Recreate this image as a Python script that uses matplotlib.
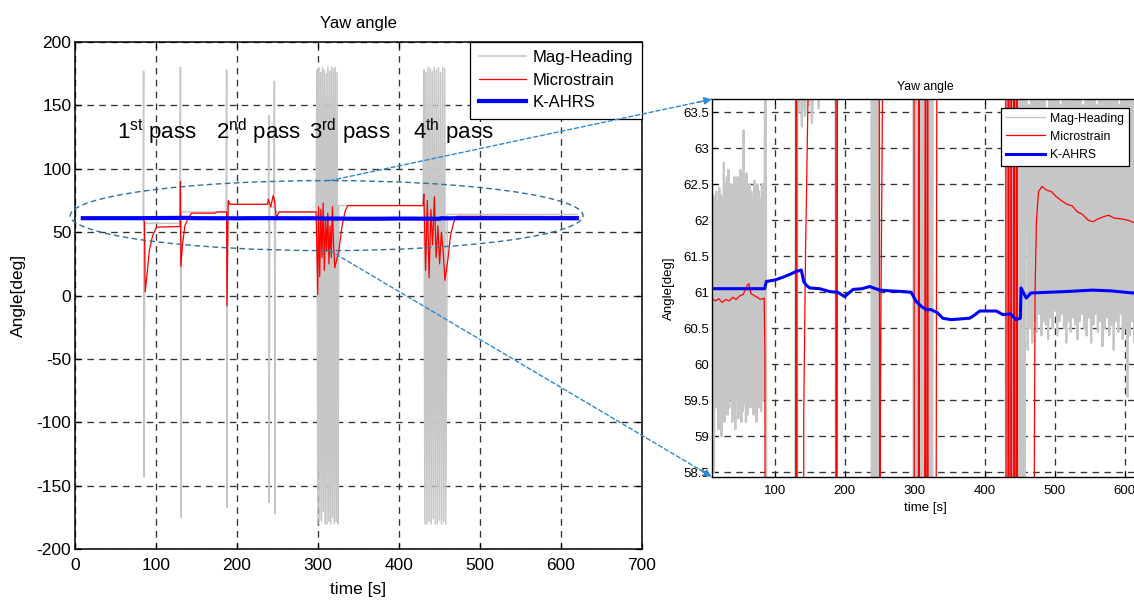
import numpy as np
import matplotlib
matplotlib.use('Agg')
import matplotlib.pyplot as plt
from matplotlib.patches import Ellipse, ConnectionPatch
from matplotlib.ticker import FuncFormatter

# ---------------- overview panel (left) ----------------
# Mag-Heading
mag_t = [10, 84.5, 85, 85.6, 86.5, 130, 130.5, 131, 131.6, 187, 187.5, 188, 188.6,
         239, 239.5, 240.1, 240.7, 246, 246.5, 247.1, 247.7, 298]
mag_v = [61.5, 61.5, 177, -143, 57, 57, 180, -175, 66, 66, 178, -167, 72,
         72, 142, -163, 70, 70, 169, -172, 66, 66]
mag_burst3 = [178, -180, 180, -176, 176, -178, 180, -170, 178, -180, 175, -180,
              180, -178, 177, -180, 180, -175, 179, -180, 180, -178, 176, -180]
mag_mid_t = [326, 430]
mag_mid_v = [71, 71]
mag_burst4 = [178, -180, 176, -180, 180, -178, 179, -180, 177, -176, 180,
              -180, 178, -180, 180, -177, 176, -180, 180, -178, 179, -180]
mag_end_t = [460, 620]
mag_end_v = [64, 64]

# Microstrain
red_t = [10, 85, 86, 87, 89, 92, 96, 101, 130, 130.5, 131, 133, 136, 140, 144, 173,
         176, 187.5, 188, 189.5, 192, 238, 239, 242, 245, 247, 249, 250.5, 253, 298, 300]
red_v = [61, 61, 58, 3, 15, 35, 47, 54, 54.5, 90, 23, 40, 55, 61, 65, 65,
         66, 66, -8, 75, 72, 72, 76, 70, 79, 74, 59.7, 64, 66, 66, 1]
red_burst3 = [70, 15, 68, 30, 73, 20, 60, 35, 65, 25, 55, 30, 70, 40, 22]
red_mid_t = [326, 330, 334, 337, 430]
red_mid_v = [35, 55, 67, 71, 71]
red_burst4 = [80, 20, 75, 14, 68, 40, 78, 30, 55, 25, 50, 35, 12]
red_end_t = [461, 464, 468, 472, 620]
red_end_v = [30, 48, 58, 62.5, 62.3]

# K-AHRS (used in both panels)
ahrs_t = [10, 85.7, 88, 100, 112, 122, 131, 135, 138, 141.4, 145, 150, 164, 178.6, 190,
          200, 212, 225, 235.7, 250, 265, 283, 295, 302, 310, 316.7, 323, 332, 340, 352,
          365, 378.6, 385, 392.9, 405, 416.7, 426, 437, 445, 451, 452, 455, 459.5, 466,
          490, 516, 535, 554, 580, 612, 620]
ahrs_v = [61.05, 61.05, 61.15, 61.17, 61.21, 61.25, 61.29, 61.3, 61.31, 61.15, 61.1, 61.06,
          61.05, 61.01, 61.0, 60.94, 61.04, 61.05, 61.08, 61.03, 61.02, 61.01, 61.0, 60.875,
          60.8, 60.76, 60.76, 60.72, 60.64, 60.62, 60.63, 60.64, 60.68, 60.74, 60.74, 60.74,
          60.69, 60.7, 60.62, 60.64, 61.06, 61.0, 60.92, 60.99, 61.0, 61.01, 61.02, 61.03,
          61.02, 60.99, 61.0]

pass_labels = [r'1$^{\mathrm{st}}$ pass', r'2$^{\mathrm{nd}}$ pass',
               r'3$^{\mathrm{rd}}$ pass', r'4$^{\mathrm{th}}$ pass']
pass_x = [52, 175, 289, 417]
pass_y = [123.6, 123.6, 123.6, 123.6]

# ---------------- zoomed panel (right) ----------------
zmag_a_hi = [61.9, 62.35, 62.3, 62.4, 62.2, 62.45, 62.35, 62.3, 62.8, 62.5,
             62.6, 62.7, 62.4, 62.5, 62.3, 62.6, 62.5, 62.6, 62.55, 62.7,
             62.5, 63.25, 62.6, 62.65, 62.45, 62.5, 62.4, 62.3, 62.55, 62.45,
             62.5, 62.4, 62.3, 62.5, 62.5]
zmag_a_lo = [59.8, 58.5, 59.4, 59.6, 59.1, 59.3, 59.0, 59.5, 59.2, 59.6,
             59.3, 59.4, 59.55, 59.2, 59.3, 59.1, 59.5, 59.25, 59.4, 59.2,
             59.35, 59.45, 59.2, 59.3, 59.6, 59.4, 59.7, 59.3, 59.5, 59.2,
             59.6, 59.4, 59.35, 59.5, 59.6]
zmag_b_t = [85.5, 87, 88.5, 89.5, 129.5, 130.5, 131.5, 132.5, 133.5]
zmag_b_v = [62.0, 66, 55, 57, 57, 70, 45, 70, 64.0]
zmag_c = [63.5, 64.2, 63.3, 64.0, 63.45, 64.3, 63.6, 64.1, 63.35, 64.0, 63.7, 64.2,
          63.55, 64.1, 63.8, 64.3]
zmag_d_t = [187, 188, 188.6, 238, 239, 240, 241.5, 243, 245, 246.5, 248, 249.5, 298]
zmag_d_v = [64.3, 50, 72, 72, 45, 75, 45, 70, 45, 72, 48, 66, 66]
zmag_burst3 = [40, 80, 45, 78, 42, 80, 40, 76, 44, 80, 40, 79, 43, 80, 41, 77, 45, 71]
zmag_burst4 = [40, 80, 42, 78, 40, 80, 45, 77, 40, 80, 43, 79, 40, 80, 44, 78, 40, 70]
zmag_e_hi = [64.0, 63.6, 64.3, 63.75, 64.1, 63.65, 64.2, 63.8, 64.0, 63.55,
             64.3, 63.7, 64.1, 63.9, 64.2, 63.6, 64.0, 63.75, 64.3, 63.65,
             64.1, 63.8, 64.2, 63.7, 64.0, 63.6, 64.3, 63.85, 64.1, 63.7,
             64.2, 63.6, 64.0, 63.8, 64.3, 63.7, 64.1, 63.65, 64.2, 63.75,
             64.0, 63.6, 64.3, 63.8, 64.1, 63.7, 64.2, 63.65, 64.0, 63.8]
zmag_e_lo = [60.2, 60.5, 60.3, 60.6, 60.45, 60.7, 60.4, 60.6, 60.55, 60.35,
             60.65, 60.5, 60.75, 60.4, 60.6, 60.7, 60.5, 60.3, 60.6, 60.45,
             60.65, 60.55, 60.35, 60.6, 60.7, 60.5, 60.4, 60.65, 60.3, 60.55,
             60.7, 60.45, 60.6, 60.25, 60.5, 60.65, 60.4, 60.55, 60.2, 60.6,
             60.45, 60.7, 60.35, 60.5, 59.55, 60.4, 60.6, 60.3, 60.55, 60.45]

zred_t = [10, 15, 20, 25, 30, 35, 40, 45, 50, 55, 60, 63, 66, 70, 75, 80, 85, 86, 87, 129.8,
          130.5, 132.9, 141.2, 141.5, 144, 147.6, 152, 187.4, 187.8, 190.8, 193, 248, 250.2,
          250.8, 252, 254, 257, 299, 302.1, 306, 309.3, 315.5, 317, 318.5, 320.5, 328, 331,
          332, 337, 430, 432, 434, 436, 438, 440, 442, 444, 446, 448, 450.6, 468, 470.9, 472,
          474, 477, 482, 488, 495, 502, 510, 518, 525, 532, 540, 548, 555, 562, 570, 577,
          585, 595, 605, 612, 620]
zred_v = [60.92, 60.88, 60.91, 60.86, 60.9, 60.88, 60.93, 60.9, 60.95, 60.97, 61.08, 61.12,
          60.98, 60.96, 60.93, 60.9, 60.92, 60.15, 50, 50, 75, 45, 45, 59.3, 61.5, 63.7, 65,
          66, 45, 76, 72, 76, 57, 59.0, 61.0, 63.7, 66, 66, 1, 70, 15, 68, 30, 73, 22, 40, 60,
          66, 71, 71, 20, 80, 25, 75, 14, 68, 40, 78, 30, 12, 40, 58.44, 61.0, 62.0, 62.4,
          62.47, 62.42, 62.4, 62.33, 62.27, 62.22, 62.2, 62.12, 62.08, 62.0, 61.98, 62.02,
          62.05, 62.07, 62.03, 62.02, 62.0, 61.97, 62.0]

legend_labels = ['Mag-Heading', 'Microstrain', 'K-AHRS']


def interleave(hi, lo):
    return np.ravel(np.column_stack([hi, lo]))


if __name__ == '__main__':
    plt.rcParams['font.family'] = ['Liberation Sans', 'DejaVu Sans']
    plt.rcParams['mathtext.fontset'] = 'custom'
    plt.rcParams['mathtext.rm'] = 'Liberation Sans'
    plt.rcParams['axes.unicode_minus'] = False

    gray = '#c6c6c6'
    grid_kw = dict(color='0.2', linestyle=(0, (5, 4)), linewidth=0.95)

    fig = plt.figure(figsize=(11.34, 6.03), dpi=100)
    ax1 = fig.add_axes([0.0659, 0.0891, 0.5, 0.8413])
    ax2 = fig.add_axes([0.6276, 0.2095, 0.3765, 0.6259])

    # left: full range
    m_t = np.concatenate([mag_t, np.linspace(299, 325, len(mag_burst3)), mag_mid_t,
                          np.linspace(431, 458, len(mag_burst4)), mag_end_t])
    m_v = np.concatenate([mag_v, mag_burst3, mag_mid_v, mag_burst4, mag_end_v])
    r_t = np.concatenate([red_t, np.linspace(301, 321, len(red_burst3)), red_mid_t,
                          np.linspace(431, 457, len(red_burst4)), red_end_t])
    r_v = np.concatenate([red_v, red_burst3, red_mid_v, red_burst4, red_end_v])

    ax1.plot(m_t, m_v, color=gray, lw=1.1, label=legend_labels[0])
    ax1.plot(r_t, r_v, color='red', lw=0.9, label=legend_labels[1])
    ax1.plot(ahrs_t, ahrs_v, color='#0000ff', lw=3, label=legend_labels[2])

    ax1.set_xlim(0, 700)
    ax1.set_ylim(-200, 200)
    ax1.set_xticks(np.arange(0, 701, 100))
    ax1.set_yticks(np.arange(-200, 201, 50))
    ax1.grid(True, **grid_kw)
    ax1.tick_params(direction='in', top=True, right=True, length=4.5, width=0.9,
                    labelsize=12.5)
    ax1.tick_params(axis='x', pad=6)
    ax1.tick_params(axis='y', pad=2.5)
    for s in ax1.spines.values():
        s.set_linewidth(1.1)
    ax1.set_title('Yaw angle', fontsize=12, pad=10)
    ax1.set_xlabel('time [s]', fontsize=12.5, va='center')
    ax1.xaxis.set_label_coords(0.5, -0.08)
    ax1.set_ylabel('Angle[deg]', fontsize=12.5, va='center')
    ax1.yaxis.set_label_coords(-0.1, 0.5)

    for lab, x, y in zip(pass_labels, pass_x, pass_y):
        ax1.text(x, y, lab, fontsize=16, va='baseline', ha='left')

    leg1 = ax1.legend(loc='upper right', borderaxespad=0, fontsize=12, fancybox=False,
                      edgecolor='black', framealpha=1, borderpad=0.5, labelspacing=0.45,
                      handlelength=2.85, handletextpad=0.4)
    leg1.get_frame().set_linewidth(0.9)

    ell = Ellipse((311, 63.1), 633, 55.2, fill=False, ec='#2e6f9e', lw=1.0,
                  ls=(0, (4, 2.5)), clip_on=False, zorder=5)
    ax1.add_patch(ell)

    # right: zoom on the K-AHRS level
    z_t = np.concatenate([np.linspace(10, 85, 2 * len(zmag_a_hi)), zmag_b_t,
                          np.linspace(134, 170, len(zmag_c)), zmag_d_t,
                          np.linspace(300, 326, len(zmag_burst3)), [430],
                          np.linspace(431, 458, len(zmag_burst4)),
                          np.linspace(460, 620, 2 * len(zmag_e_hi))])
    z_v = np.concatenate([interleave(zmag_a_hi, zmag_a_lo), zmag_b_v, zmag_c, zmag_d_v,
                          zmag_burst3, [71], zmag_burst4, interleave(zmag_e_hi, zmag_e_lo)])

    ax2.plot(z_t, z_v, color=gray, lw=1.6, label=legend_labels[0])
    ax2.plot(zred_t, zred_v, color='red', lw=0.9, label=legend_labels[1])
    ax2.plot(ahrs_t, ahrs_v, color='#0000ff', lw=2.2, label=legend_labels[2])

    ax2.set_xlim(10, 620)
    ax2.set_ylim(58.44, 63.68)
    ax2.set_xticks(np.arange(100, 601, 100))
    ax2.set_yticks(np.arange(58.5, 63.6, 0.5))
    ax2.yaxis.set_major_formatter(FuncFormatter(lambda v, p: '%g' % v))
    ax2.grid(True, **grid_kw)
    ax2.tick_params(direction='in', top=True, right=True, length=3.5, width=0.8,
                    labelsize=9.5)
    ax2.tick_params(axis='x', pad=6)
    ax2.tick_params(axis='y', pad=1.5)
    for s in ax2.spines.values():
        s.set_linewidth(1.0)
    ax2.set_title('Yaw angle', fontsize=8.8, pad=7)
    ax2.set_xlabel('time [s]', fontsize=9.5, va='center')
    ax2.xaxis.set_label_coords(0.5, -0.0837)
    ax2.set_ylabel('Angle[deg]', fontsize=9.5, va='center')
    ax2.yaxis.set_label_coords(-0.1, 0.5)

    leg2 = ax2.legend(loc='upper right', bbox_to_anchor=(1129 / 1134, 1 - 107.7 / 603),
                      bbox_transform=fig.transFigure, fontsize=8.8, fancybox=False,
                      edgecolor='black', framealpha=1, borderpad=0.4, labelspacing=0.5,
                      handlelength=3.2, handletextpad=0.45, borderaxespad=0)
    leg2.get_frame().set_linewidth(0.9)
    leg2.get_lines()[0].set_linewidth(1.0)

    # dashed connectors from the ellipse to the zoom panel
    arrow_c = '#2a8ad2'
    for xy_a, xy_b, tail in [((315, 90.7), (0, 1), (-13.7, -2.9)),
                             ((315, 35.5), (0, 0), (-12.0, 7.1))]:
        con = ConnectionPatch(xyA=xy_a, coordsA=ax1.transData, xyB=xy_b,
                              coordsB=ax2.transAxes, color=arrow_c, lw=1.0,
                              ls=(0, (3, 2)), zorder=6)
        fig.add_artist(con)
        ax2.annotate('', xy=xy_b, xycoords='axes fraction', xytext=tail,
                     textcoords='offset pixels', annotation_clip=False,
                     arrowprops=dict(arrowstyle='-|>', color=arrow_c, lw=1.0,
                                     mutation_scale=11, shrinkA=0, shrinkB=0))

    fig.savefig('out.png', dpi=100)
